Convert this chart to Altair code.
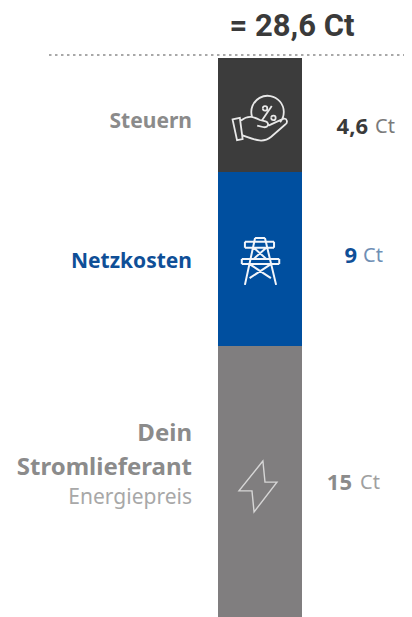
import altair as alt
import pandas as pd

segments = ["Dein Stromlieferant", "Netzkosten", "Steuern"]
values = [15, 9, 4.6]
value_texts = ["15", "9", "4,6"]
total_text = "= 28,6 Ct"

starts = [0, 15, 24]
ends = [15, 24, 28.6]
df = pd.DataFrame({"seg": segments, "start": starts, "end": ends,
                   "mid": [(a + b) / 2 for a, b in zip(starts, ends)]})

Y = alt.Scale(domain=[0, 15, 24, 28.6, 28.75], range=[609, 338, 164, 50, 47])
COL = alt.Scale(domain=segments, range=["#807e7f", "#004f9f", "#3c3c3c"])
FONT = "Noto Sans"

bars = alt.Chart(df).mark_rect().encode(
    x=alt.value(210), x2=alt.value(294),
    y=alt.Y("start:Q", scale=Y, axis=None), y2="end:Q",
    color=alt.Color("seg:N", scale=COL, legend=None))

rule = alt.Chart(pd.DataFrame({"t": [28.75]})).mark_rule(
    color="#8c8c8c", strokeWidth=1.5, strokeDash=[2.5, 3.5]).encode(
    x=alt.value(41), x2=alt.value(396), y=alt.Y("t:Q", scale=Y, axis=None))

def text_at(val, txt, px, dy, color, size, weight, align, font=FONT):
    d = pd.DataFrame({"v": [val], "txt": [txt]})
    return alt.Chart(d).mark_text(font=font, fontSize=size, fontWeight=weight, color=color,
                                  align=align, baseline="middle", dy=dy).encode(
        x=alt.value(px), y=alt.Y("v:Q", scale=Y, axis=None), text="txt:N")

layers = [bars, rule]
layers.append(text_at(28.6, total_text, 284, -31, "#3a3a3a", 31, 700, "center", "Roboto"))
layers += [
    text_at(26.3, segments[2], 184, 7, "#8b8b8b", 21, 700, "right"),
    text_at(19.5, segments[1], 184, 3, "#0f4f97", 21, 700, "right"),
    text_at(7.5, "Dein", 184, -48, "#8b8b8b", 24, 700, "right"),
    text_at(7.5, "Stromlieferant", 184, -14, "#8b8b8b", 24, 700, "right"),
    text_at(7.5, "Energiepreis", 184, 16, "#a8a8a8", 21, 400, "right"),
    text_at(26.3, value_texts[2], 360, 12, "#3a3a3a", 22, 700, "right"),
    text_at(26.3, "Ct", 367, 12, "#7a7a7a", 20, 400, "left"),
    text_at(19.5, value_texts[1], 349, -3, "#0f4f97", 22, 700, "right"),
    text_at(19.5, "Ct", 355, -3, "#6f8fb5", 20, 400, "left"),
    text_at(7.5, value_texts[0], 344, 1, "#8b8b8b", 22, 700, "right"),
    text_at(7.5, "Ct", 352, 1, "#a0a0a0", 20, 400, "left"),
]

BOLT = "M.15 -.98L-.77 .17L-.27 .17L-.19 .98L.69 -.17L.23 -.17Z"
HAND = ("M-.98 -.02L-.72 -.08L-.62 .68L-.82 .72Z"
        "M-.68 .02C-.4 -.2 -.2 -.1 0 0L.2 .05C.35 .1 .3 .3 .1 .25L-.1 .2"
        "M.3 .2L.82 -.04C.98 -.08 1 .1 .9 .16L.4 .6C.1 .85 -.2 .7 -.62 .55"
        "M-.28 -.1A.58 .58 0 1 1 .72 .08"
        "M.08 .0L.42 -.5"
        "M.1 -.42A.08 .08 0 1 1 .1 -.41"
        "M.4 -.08A.08 .08 0 1 1 .4 -.07")
TOWER = ("M-.58 -.78L.54 -.78M-.58 -.78L-.58 -.55M.54 -.78L.54 -.55M-.58 -.55L.54 -.55"
         "M-.7 -.12L.74 -.12M-.7 -.12L-.7 .08M.74 -.12L.74 .08M-.7 .08L.74 .08"
         "M-.19 -.92L-.58 .88M.19 -.92L.62 .88M0 -.92L-.19 -.92M0 -.92L.19 -.92"
         "M-.4 .08L.42 .62M.42 .08L-.4 .62M-.24 -.55L.24 -.12M.24 -.55L-.24 -.12")

def icon(val, path, px, dy, side, sw, col):
    d = pd.DataFrame({"v": [val]})
    return alt.Chart(d).mark_point(shape=path, size=side * side, stroke=col, strokeWidth=sw,
                                   filled=False, opacity=1, yOffset=dy).encode(
        x=alt.value(px), y=alt.Y("v:Q", scale=Y, axis=None))

layers += [
    icon(26.3, HAND, 252, 5, 56, 1.8, "#e8e8e8"),
    icon(19.5, TOWER, 252, 3, 52, 2.0, "#f2f5fa"),
    icon(7.5, BOLT, 251, 5, 52, 1.4, "#d6d6d6"),
]

chart = alt.layer(*layers).properties(
    width=396, height=609, padding=0, autosize=alt.AutoSizeParams(type="none"),
    background="white"
).configure_view(stroke=None)

chart.save("out.html", embed_options={"renderer": "svg", "actions": False})
